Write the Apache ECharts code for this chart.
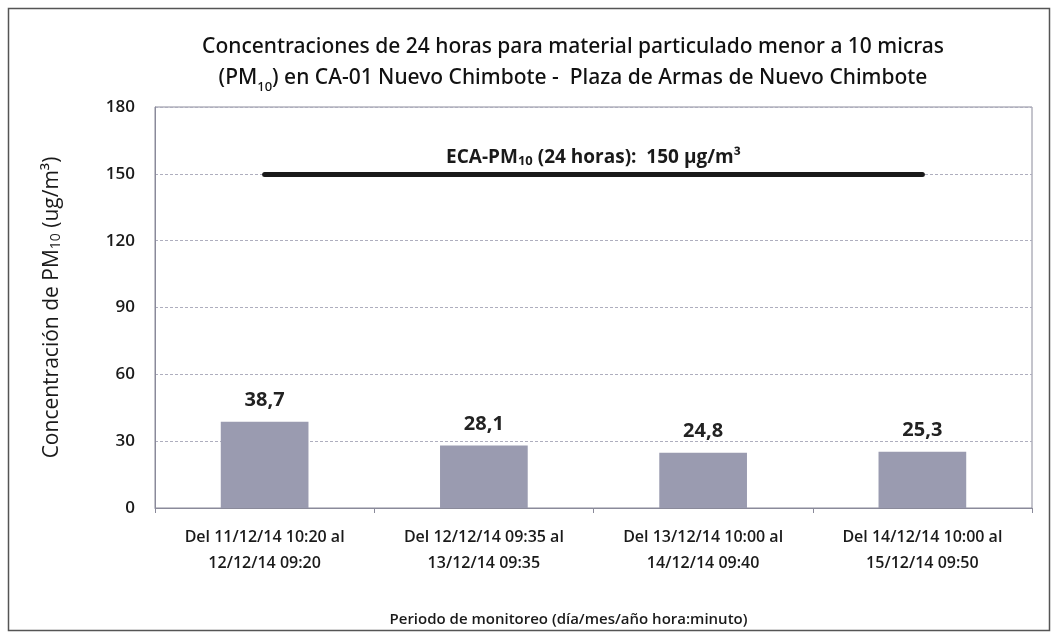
<!DOCTYPE html>
<html><head><meta charset="utf-8">
<script src="https://cdn.jsdelivr.net/npm/echarts@6/dist/echarts.min.js"></script>
<style>html,body{margin:0;padding:0;background:#fff}#c{width:1058px;height:637px}</style>
</head><body><div id="c"></div>
<script>
var categories = [
  "Del 11/12/14 10:20 al\n12/12/14 09:20",
  "Del 12/12/14 09:35 al\n13/12/14 09:35",
  "Del 13/12/14 10:00 al\n14/12/14 09:40",
  "Del 14/12/14 10:00 al\n15/12/14 09:50"
];
var values = [38.7, 28.1, 24.8, 25.3];
var ecaLimit = 150;
var yTicks = [0, 30, 60, 90, 120, 150, 180];

var FONT = "'Noto Sans',sans-serif";
var FONT2 = "'Open Sans','Noto Sans',sans-serif";
var chart = echarts.init(document.getElementById('c'), null, {renderer:'canvas'});
chart.setOption({
  animation: false,
  backgroundColor: '#fff',
  graphic: [{
    type: 'rect', shape: {x: 8.5, y: 8.5, width: 1041, height: 622},
    style: {fill: 'none', stroke: '#555', lineWidth: 1.5}, silent: true
  }],
  title: {
    text: 'Concentraciones de 24 horas para material particulado menor a 10 micras\n{n|(PM}{s|10}{n|) en CA-01 Nuevo Chimbote -  Plaza de Armas de Nuevo Chimbote}',
    left: 568, textAlign: 'center', top: 27,
    textStyle: {
      fontFamily: FONT, fontSize: 21, fontWeight: 500, color: '#111', lineHeight: 31,
      rich: {
        n: {fontFamily: FONT, fontSize: 21, fontWeight: 500, color: '#111', lineHeight: 31},
        s: {fontFamily: FONT, fontSize: 13, fontWeight: 500, color: '#111', verticalAlign: 'bottom', lineHeight: 31}
      }
    }
  },
  grid: {left: 155, right: 26, top: 107, bottom: 129, show: true, borderColor: '#8a8a9a', borderWidth: 1},
  xAxis: {
    type: 'category', data: categories,
    axisLine: {lineStyle: {color: '#8a8a9a'}},
    axisTick: {show: true, length: 5, alignWithLabel: false, lineStyle: {color: '#8a8a9a'}},
    axisLabel: {fontFamily: FONT2, fontSize: 16, fontWeight: 600, color: '#1a1a1a', lineHeight: 26, margin: 16, interval: 0},
    name: 'Periodo de monitoreo (día/mes/año hora:minuto)',
    nameLocation: 'middle', nameGap: 104,
    nameTextStyle: {fontFamily: FONT2, fontSize: 15, fontWeight: 600, color: '#1a1a1a', padding: [0, 50, 0, 0]}
  },
  yAxis: {
    type: 'value', min: 0, max: 180, interval: 30,
    axisLine: {show: true, lineStyle: {color: '#8a8a9a'}},
    axisTick: {show: false},
    splitLine: {lineStyle: {color: '#aeaebe', type: [3, 2], width: 1}},
    axisLabel: {fontFamily: FONT2, fontSize: 17, fontWeight: 600, color: '#1a1a1a', margin: 20,
      formatter: function(v){ return yTicks.indexOf(v) >= 0 ? String(v) : ''; }},
    name: '{n|Concentración de PM}{s|10}{n| (ug/m³)}',
    nameLocation: 'middle', nameGap: 92, nameRotate: 90,
    nameTextStyle: {
      rich: {
        n: {fontFamily: FONT2, fontSize: 21, fontWeight: 500, color: '#1a1a1a'},
        s: {fontFamily: FONT2, fontSize: 14, fontWeight: 500, color: '#1a1a1a', verticalAlign: 'bottom', padding: [8,0,0,0]}
      }
    }
  },
  series: [{
    type: 'bar', data: values, barWidth: '40%',
    itemStyle: {color: '#9a9bb0'},
    label: {
      show: true, position: 'top', distance: 11,
      fontFamily: FONT2, fontSize: 20, fontWeight: 'bold', color: '#222',
      formatter: function(p){ return p.value.toFixed(1).replace('.', ','); }
    },
    markLine: {
      silent: true, symbol: ['none', 'none'],
      lineStyle: {color: '#1a1a1a', width: 5, type: 'solid', cap: 'round'},
      label: {
        show: true, position: 'insideMiddleTop', distance: 6,
        formatter: '{b|ECA-PM}{s|10}{b| (24 horas):  150 µg/m³}',
        rich: {
          b: {fontFamily: FONT2, fontSize: 19, fontWeight: 'bold', color: '#1a1a1a'},
          s: {fontFamily: FONT2, fontSize: 13, fontWeight: 'bold', color: '#1a1a1a', verticalAlign: 'bottom', padding: [8,0,0,0]}
        }
      },
      data: [[{coord: [0, ecaLimit]}, {coord: [3, ecaLimit]}]]
    }
  }]
});
</script></body></html>
